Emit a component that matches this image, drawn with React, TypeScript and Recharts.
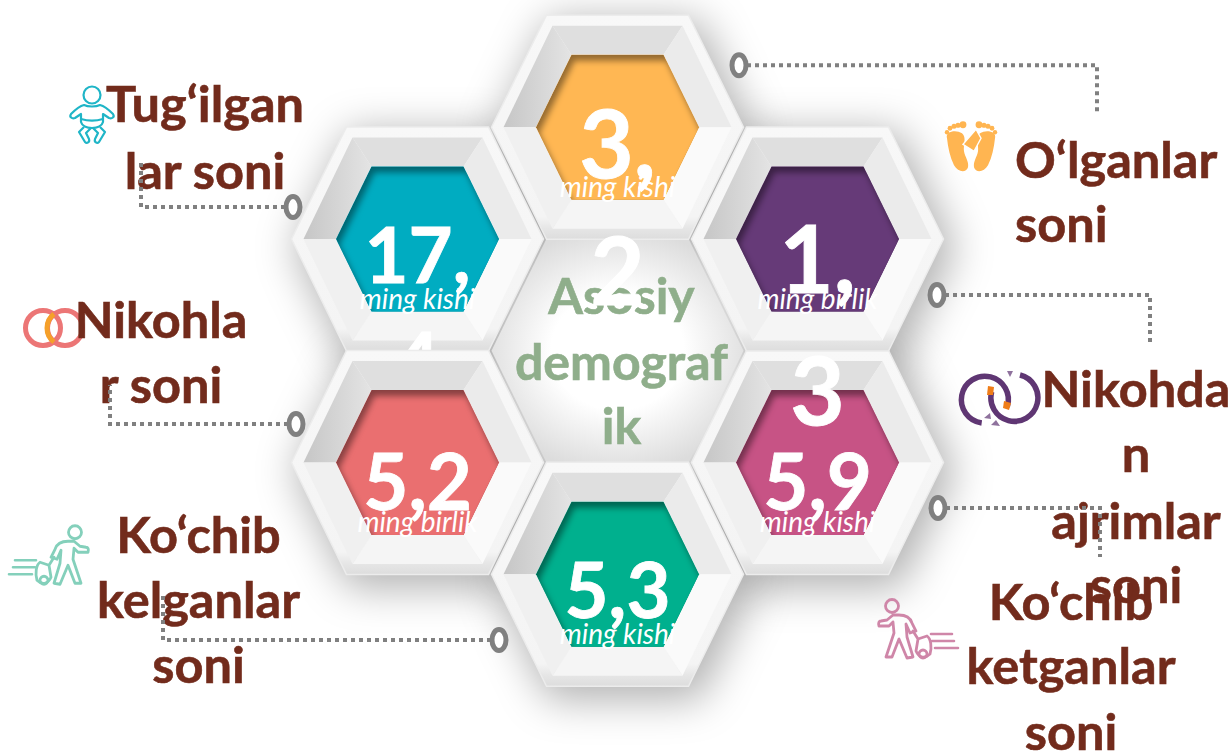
import React from "react";
import { ScatterChart, Scatter, XAxis, YAxis } from "recharts";

// Drawing order matters: the wrapped "4" sits under the frame of the red cell.
const cellNames = ["pink", "green", "teal", "red", "top", "purple"];
const gridCols = [1, 0, -1, -1, 0, 1];
const gridRows = [1, 2, -1, 1, -2, -1];
const valueLines = [["5,9"], ["5,3"], ["17,", "4"], ["5,2"], ["3,", "2"], ["1,", "3"]];
const units = ["ming kishi", "ming kishi", "ming kishi", "ming birlik", "ming kishi", "ming birlik"];
const labelLines = [
  ["Ko‘chib", "ketganlar", "soni"],
  ["Ko‘chib", "kelganlar", "soni"],
  ["Tug‘ilgan", "lar soni"],
  ["Nikohla", "r soni"],
  ["O‘lganlar", "soni"],
  ["Nikohda", "n", "ajrimlar", "soni"],
];
const centerLines = ["Asosiy", "demograf", "ik"];
const fills = ["#c75385", "#00b08e", "#00acc1", "#ea6f70", "#ffb753", "#663a78"];

const cells = cellNames.map((name, i) => ({
  name,
  col: gridCols[i],
  row: gridRows[i],
  lines: valueLines[i],
  unit: units[i],
  label: labelLines[i],
  fill: fills[i],
}));
const centerCell = [{ col: 0, row: 0, lines: centerLines }];

const FONT = "Lato, Carlito, sans-serif";
const BROWN = "#722b1c";
const GREY = "#808080";

// Layout, as offsets from each cell's centre.
const LAYOUT: Record<string, any> = {
  pink: { ring: [120.5, 45.5], path: [[282.5, 45.5], [282.5, 94.5]], lx: 253.5, ly: [157.5, 221.5, 287.5], anchor: "middle", val: [47.5], size: 78, icon: [101.5, 166.5] },
  green: { ring: [-118.5, 65.75], path: [[-454.5, 65.75], [-454.5, 17.75]], lx: -419, ly: [-21, 44, 109], anchor: "middle", val: [44], size: 76, icon: [-569.5, -19] },
  teal: { ring: [-124.5, -32], path: [[-276.5, -32], [-276.5, -79]], lx: -212.5, ly: [-117, -50], anchor: "middle", val: [44, 149], size: 76, icon: [-325.5, -125] },
  red: { ring: [-121.5, -38.5], path: [[-307.5, -38.5], [-307.5, -77.5]], lx: -256.5, ly: [-124.5, -59.5], anchor: "middle", val: [47.5], size: 78, icon: [-363.5, -134.5] },
  top: { ring: [121.5, -62], path: [[479.5, -62], [479.5, -15]], lx: 397.5, ly: [51, 115], anchor: "start", val: [51, 178], size: 94, icon: [353.5, 19] },
  purple: { ring: [119.5, 56], path: [[332.5, 56], [332.5, 104]], lx: 318.5, ly: [168, 233, 300, 364], anchor: "middle", val: [54, 186], size: 94, icon: [183.5, 159] },
};

const hex = (hw: number, hh: number, t: number) => [
  [-hw, 0], [-t, -hh], [t, -hh], [hw, 0], [t, hh], [-t, hh],
];
const pts = (p: number[][]) => p.map((q) => q.join(",")).join(" ");
const OUTER = hex(126, 112, 71);
const MID = hex(114, 101.5, 65);
const INNER = hex(81.5, 72.5, 46);
// edge i runs from vertex i to vertex i+1: upper-left, top, upper-right, lower-right, bottom, lower-left
const BEVELS = ["url(#bevelUL)", "#dfdfdf", "#ebebeb", "#fafafa", "#f5f5f5", "#f0f0f0"];

function ShadowShape({ cx, cy }: any) {
  return (
    <polygon
      transform={`translate(${cx + 7},${cy + 9})`}
      points={pts(hex(131, 117, 75))}
      fill="#000"
      fillOpacity={0.3}
      style={{ filter: "blur(20px)" }}
    />
  );
}

function CenterShape({ cx, cy, payload }: any) {
  return (
    <g transform={`translate(${cx},${cy})`}>
      <defs>
        <radialGradient id="centerGlow" cx="50%" cy="50%" r="55%">
          <stop offset="0%" stopColor="#ffffff" />
          <stop offset="48%" stopColor="#ffffff" />
          <stop offset="100%" stopColor="#dcdcdc" />
        </radialGradient>
        <linearGradient id="bevelUL" x1="0" y1="0.5" x2="1" y2="0.5">
          <stop offset="0%" stopColor="#c6c6c6" />
          <stop offset="100%" stopColor="#e4e4e4" />
        </linearGradient>
        <linearGradient id="outerRim" x1="0" y1="0" x2="0" y2="1">
          <stop offset="0%" stopColor="#f8f8f8" />
          <stop offset="90%" stopColor="#f4f4f4" />
          <stop offset="95%" stopColor="#e6e6e6" />
          <stop offset="100%" stopColor="#dddddd" />
        </linearGradient>
      </defs>
      <polygon points={pts(hex(126, 112, 71))} fill="url(#centerGlow)" />
      {payload.lines.map((t: string, i: number) => (
        <text key={t} x={4} y={[-37, 29, 93][i]} textAnchor="middle" fontFamily={FONT} fontWeight={700} fontSize={50} fill="#8fae8b" stroke="#8fae8b" strokeWidth={0.6}>
          {t}
        </text>
      ))}
    </g>
  );
}

function CellShape({ cx, cy, payload, index }: any) {
  const id = `clip-${index}`;
  const l = LAYOUT[payload.name];
  return (
    <g transform={`translate(${cx},${cy})`}>
      <defs>
        <clipPath id={id}>
          <polygon points={pts(INNER)} />
        </clipPath>
      </defs>
      <polygon points={pts(OUTER)} fill="url(#outerRim)" stroke="#ececec" strokeWidth={1.5} />
      {MID.map((m, i) => {
        const j = (i + 1) % 6;
        return <polygon key={i} points={pts([m, MID[j], INNER[j], INNER[i]])} fill={BEVELS[i]} />;
      })}
      <polygon points={pts(INNER)} fill={payload.fill} />
      <g clipPath={`url(#${id})`}>
        <polygon points={pts(INNER)} fill="#000" fillOpacity={0.42} />
        <polygon points={pts(INNER)} transform="translate(3,6)" fill={payload.fill} style={{ filter: "blur(3px)" }} />
      </g>
      {payload.lines.map((t: string, i: number) => (
        <text key={i} x={0} y={l.val[i]} textAnchor="middle" fontFamily={FONT} fontWeight={700} fontSize={l.size} fill="#fff" stroke="#fff" strokeWidth={0.8}>
          {t}
        </text>
      ))}
      <text x={0} y={69.5} textAnchor="middle" fontFamily={FONT} fontStyle="italic" fontSize={28} fill="#fff">
        {payload.unit}
      </text>
    </g>
  );
}

const Baby = () => (
  <g fill="none" stroke="#1fb5c7" strokeWidth={2.2} strokeLinejoin="round">
    <circle cx={0} cy={-19} r={8.5} />
    <path d="M-8,-9 C-12,-8 -17,-4 -21,0 C-23,3 -20,5 -17,4 L-11,0 L-11,8 C-10,12 -5,14 0,14 C5,14 10,12 11,8 L11,0 L17,4 C20,5 23,3 21,0 C17,-4 12,-8 8,-9 C4,-7 -4,-7 -8,-9 Z" />
    <path d="M-11,5 C-4,7 4,7 11,5" />
    <path d="M-8,13 L-13,18 L-7,28 C-5,30 -2,28 -3,25 L-6,19 L-1,14" />
    <path d="M8,13 L13,18 L7,28 C5,30 2,28 3,25 L6,19 L1,14" />
  </g>
);

const Foot = () => (
  <g fill="#ffb551">
    <path d="M-24,-8 C-26,-15 -15,-17 -9,-13 C-4,-9 -8,-1 -7,5 C-6,11 -2,15 -3,21 C-5,27 -13,26 -17,19 C-21,11 -23,1 -24,-8 Z" />
    <circle cx={-24} cy={-14} r={2.2} />
    <circle cx={-21} cy={-18} r={2.4} />
    <circle cx={-17} cy={-20} r={2.5} />
    <circle cx={-13} cy={-21} r={2.6} />
    <circle cx={-8} cy={-21.5} r={3.4} />
  </g>
);

const Feet = () => (
  <g>
    <Foot />
    <g transform="scale(-1,1)"><Foot /></g>
    <path d="M5,-17 L10,-8 L3,5 L-8,-2 Z" fill="#ffb551" stroke="#fff" strokeWidth={1.4} />
  </g>
);

const Rings = () => (
  <g fill="none" strokeWidth={5}>
    <circle cx={-11} cy={0} r={17.5} stroke="#ec7676" />
    <circle cx={11} cy={0} r={17.5} stroke="#ec7676" />
    <path d="M0,-14 A17.5,17.5 0 0 0 0,14" stroke="#f5a02a" />
  </g>
);

const BrokenRings = () => (
  <g fill="none" stroke="#5f3673" strokeWidth={5.5}>
    <path d="M6.3,8.7 A23.5,23.5 0 1 0 -19.3,25" />
    <path d="M-9.3,-6.3 A23.5,23.5 0 1 0 19,-23" />
    <path d="M-13,-12 l6,1 l-1,8 l-6,0 Z" fill="#ef7d18" stroke="none" />
    <path d="M3,3 l7,2 l-2,7 l-6,-2 Z" fill="#ef7d18" stroke="none" />
    <path d="M-17,20 l6,-5 l1,6 Z M-10,27 l5,-5 l4,6 Z M6,-27 l6,0 l-3,6 Z" fill="#5f3673" stroke="none" opacity={0.7} />
  </g>
);

const Traveller = ({ color, flip }: any) => (
  <g transform={flip ? "scale(-1,1)" : undefined} fill="none" stroke={color} strokeWidth={2.8} strokeLinejoin="round" strokeLinecap="round">
    <circle cx={27} cy={-23} r={6.5} />
    <path d="M20,-14 C14,-14 9,-12 7,-6 L3,2 L9,4 L13,-5 L12,8 L6,28 L12,29 L20,10 L27,28 L33,28 L25,4 L26,-7 L30,-3 L40,-3 C41,-6 40,-8 38,-8 L32,-9 L26,-14 Z" />
    <path d="M6,2 L1,10 M1,10 L-8,7 C-12,10 -13,18 -11,25 C-6,30 0,29 3,22 Z" />
    <circle cx={-4} cy={25} r={4} />
    <path d="M-33,5 L-12,5 M-35,12 L-13,12 M-39,19 L-16,19" strokeWidth={2.6} />
  </g>
);

const ICONS: Record<string, React.ReactNode> = {
  pink: <Traveller color="#cf86a8" flip />,
  green: <Traveller color="#84d0bb" />,
  teal: <Baby />,
  red: <Rings />,
  top: <Feet />,
  purple: <BrokenRings />,
};

function LabelShape({ cx, cy, payload }: any) {
  const l = LAYOUT[payload.name];
  return (
    <g transform={`translate(${cx},${cy})`}>
      <g transform={`translate(${l.icon[0]},${l.icon[1]})`}>{ICONS[payload.name]}</g>
      {payload.label.map((t: string, i: number) => (
        <text key={i} x={l.lx} y={l.ly[i]} textAnchor={l.anchor} fontFamily={FONT} fontWeight={700} fontSize={50.5} fill={BROWN} stroke={BROWN} strokeWidth={0.6}>
          {t}
        </text>
      ))}
    </g>
  );
}

function ConnectorShape({ cx, cy, payload }: any) {
  const l = LAYOUT[payload.name];
  const d = "M" + [l.ring, ...l.path].map((p: number[]) => p.join(",")).join(" L");
  return (
    <g transform={`translate(${cx},${cy})`}>
      <path d={d} fill="none" stroke={GREY} strokeWidth={4} strokeDasharray="4 4" />
      <ellipse cx={l.ring[0]} cy={l.ring[1]} rx={7} ry={10.5} fill="#fff" stroke={GREY} strokeWidth={5} />
    </g>
  );
}

export default function App() {
  return (
    <div style={{ position: "absolute", left: 0, top: 0, width: 1232, height: 755, overflow: "hidden", background: "#fff" }}>
      <ScatterChart width={1232} height={755} margin={{ top: 0, right: 0, bottom: 0, left: 0 }}>
        <XAxis type="number" dataKey="col" hide domain={[-3.0875, 3.0725]} allowDataOverflow />
        <YAxis type="number" dataKey="row" hide domain={[-3.1387, 3.6174]} reversed allowDataOverflow />
        <Scatter data={cells} isAnimationActive={false} shape={ShadowShape} />
        <Scatter data={centerCell} isAnimationActive={false} shape={CenterShape} />
        <Scatter data={cells} isAnimationActive={false} shape={CellShape} />
        <Scatter data={cells} isAnimationActive={false} shape={LabelShape} />
        <Scatter data={cells} isAnimationActive={false} shape={ConnectorShape} />
      </ScatterChart>
    </div>
  );
}
